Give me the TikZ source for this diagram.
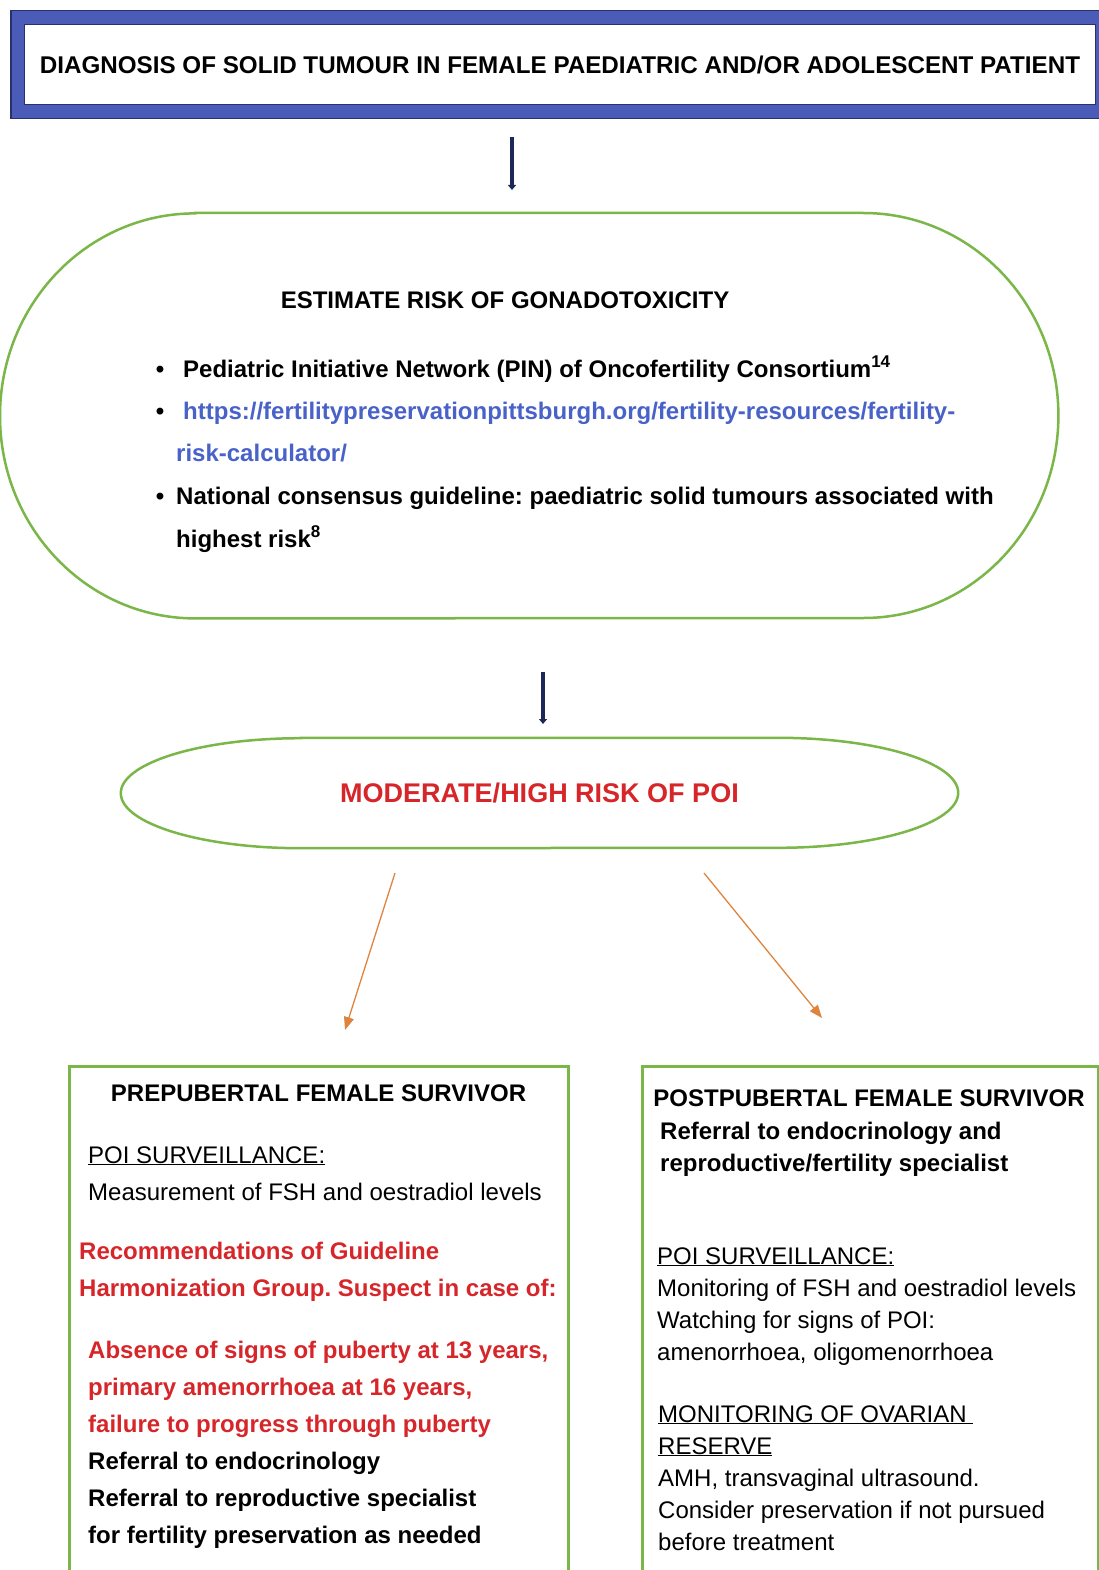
\documentclass[tikz,border=0pt]{standalone}
\usepackage{fontspec}
\setmainfont{Liberation Sans}
\usetikzlibrary{positioning,calc,arrows.meta}
\frenchspacing

\definecolor{bandblue}{RGB}{74,91,184}
\definecolor{bandedge}{RGB}{40,48,110}
\definecolor{navy}{RGB}{30,40,88}
\definecolor{riskgreen}{RGB}{122,182,72}
\definecolor{poired}{RGB}{214,38,42}
\definecolor{linkblue}{RGB}{72,98,200}
\definecolor{branch}{RGB}{222,132,62}

\begin{document}
\begin{tikzpicture}[x=1pt, y=-1pt,
        txt/.style={anchor=base west, inner sep=0pt, font=\fontsize{24}{24}\selectfont},
        txtb/.style={anchor=base west, inner sep=0pt, font=\fontsize{24}{24}\selectfont\bfseries},
        redb/.style={txtb, text=poired},
        head/.style={anchor=base, inner sep=0pt, font=\fontsize{24}{24}\selectfont\bfseries},
        surv/.style={draw=riskgreen, line width=2.5pt},
        down/.style={navy, line width=4.5pt, -{Triangle[length=5pt, width=8pt]}},
        split/.style={branch, line width=1.3pt, -{Triangle[length=13pt, width=10pt]}}
    ]
        \useasboundingbox (0,0) rectangle (1099,1570);

        % diagnosis
        \node [draw=bandedge, line width=1.5pt, fill=bandblue, anchor=north west,
            minimum width=1100pt, minimum height=108pt] (band) at (10,10) {};
        \node [draw=bandedge, line width=1pt, fill=white, anchor=north west,
            minimum width=1071pt, minimum height=80pt,
            font=\fontsize{24.2}{24}\selectfont\bfseries] (diag) at (24,24)
            {DIAGNOSIS OF SOLID TUMOUR IN FEMALE PAEDIATRIC AND/OR ADOLESCENT PATIENT};

        \coordinate (d1) at (512,137);
        \coordinate (d2) at (512,190);
        \draw [down] (d1) -- (d2);

        % gonadotoxicity
        \node [anchor=north west, minimum width=1058pt, minimum height=405pt] (risk) at (0,213) {};
        \draw [surv] ($(risk.north west)+(195,0)$) -- ($(risk.north east)+(-195,0)$)
            arc [start angle=90, end angle=-90, x radius=195pt, y radius=202.5pt]
            -- ($(risk.south west)+(195,0)$)
            arc [start angle=270, end angle=90, x radius=195pt, y radius=202.5pt] -- cycle;
        \node [head] (est) at (505,308) {ESTIMATE RISK OF GONADOTOXICITY};
        \node [txtb, anchor=base] (b1) at (160,377) {•};
        \node [txtb] (pin) at (183,377) {Pediatric Initiative Network (PIN) of Oncofertility Consortium\textsuperscript{\fontsize{17}{17}\selectfont 14}};
        \node [txtb, anchor=base] (b2) at (160,419) {•};
        \node [txtb, text=linkblue] (url) at (183,419) {https://fertilitypreservationpittsburgh.org/fertility-resources/fertility-};
        \node [txtb, text=linkblue] (url2) at (176,461) {risk-calculator/};
        \node [txtb, anchor=base] (b3) at (160,504) {•};
        \node [txtb] (nat) at (176,504) {National consensus guideline: paediatric solid tumours associated with};
        \node [txtb] (nat2) at (176,547) {highest risk\textsuperscript{\fontsize{17}{17}\selectfont 8}};

        \coordinate (d3) at (543,672);
        \coordinate (d4) at (543,724);
        \draw [down] (d3) -- (d4);

        % moderate/high risk
        \node [minimum width=837pt, minimum height=110pt, text=poired,
            font=\fontsize{27}{27}\selectfont\bfseries] (poi) at (539.5,793) {MODERATE/HIGH RISK OF POI};
        \draw [surv] ($(poi.north west)+(180,0)$) -- ($(poi.north east)+(-180,0)$)
            arc [start angle=90, end angle=-90, x radius=180pt, y radius=55pt]
            -- ($(poi.south west)+(180,0)$)
            arc [start angle=270, end angle=90, x radius=180pt, y radius=55pt] -- cycle;

        \coordinate (s1) at (395,873);
        \coordinate (s2) at (345,1030);
        \coordinate (s3) at (704,873);
        \coordinate (s4) at (822,1018);
        \draw [split] (s1) -- (s2);
        \draw [split] (s3) -- (s4);

        % prepubertal
        \node [surv, anchor=north west, minimum width=499pt, minimum height=530pt] (pre) at (68,1065) {};
        \node [head] (prehead) at (318.5,1101) {PREPUBERTAL FEMALE SURVIVOR};
        \node [txt] (p1) at (88,1163) {\underline{POI SURVEILLANCE:}};
        \node [txt] (p2) at (88,1200) {Measurement of FSH and oestradiol levels};
        \node [redb] (p3) at (79,1259) {Recommendations of Guideline};
        \node [redb] (p4) at (79,1296) {Harmonization Group. Suspect in case of:};
        \node [redb] (p5) at (88,1358) {Absence of signs of puberty at 13 years,};
        \node [redb] (p6) at (88,1395) {primary amenorrhoea at 16 years,};
        \node [redb] (p7) at (88,1432) {failure to progress through puberty};
        \node [txtb] (p8) at (88,1469) {Referral to endocrinology};
        \node [txtb] (p9) at (88,1506) {Referral to reproductive specialist};
        \node [txtb] (p10) at (88,1543) {for fertility preservation as needed};

        % postpubertal
        \node [surv, anchor=north west, minimum width=456pt, minimum height=530pt] (post) at (641,1065) {};
        \node [head] (posthead) at (869,1106) {POSTPUBERTAL FEMALE SURVIVOR};
        \node [txtb] (q1) at (660,1139) {Referral to endocrinology and};
        \node [txtb] (q2) at (660,1171) {reproductive/fertility specialist};
        \node [txt] (q3) at (657,1264) {\underline{POI SURVEILLANCE:}};
        \node [txt] (q4) at (657,1296) {Monitoring of FSH and oestradiol levels};
        \node [txt] (q5) at (657,1328) {Watching for signs of POI:};
        \node [txt] (q6) at (657,1360) {amenorrhoea, oligomenorrhoea};
        \node [txt] (q7) at (658,1422) {\underline{MONITORING OF OVARIAN\ }};
        \node [txt] (q8) at (658,1454) {\underline{RESERVE}};
        \node [txt] (q9) at (658,1486) {AMH, transvaginal ultrasound.};
        \node [txt] (q10) at (658,1518) {Consider preservation if not pursued};
        \node [txt] (q11) at (658,1550) {before treatment};
    \end{tikzpicture}
\end{document}
